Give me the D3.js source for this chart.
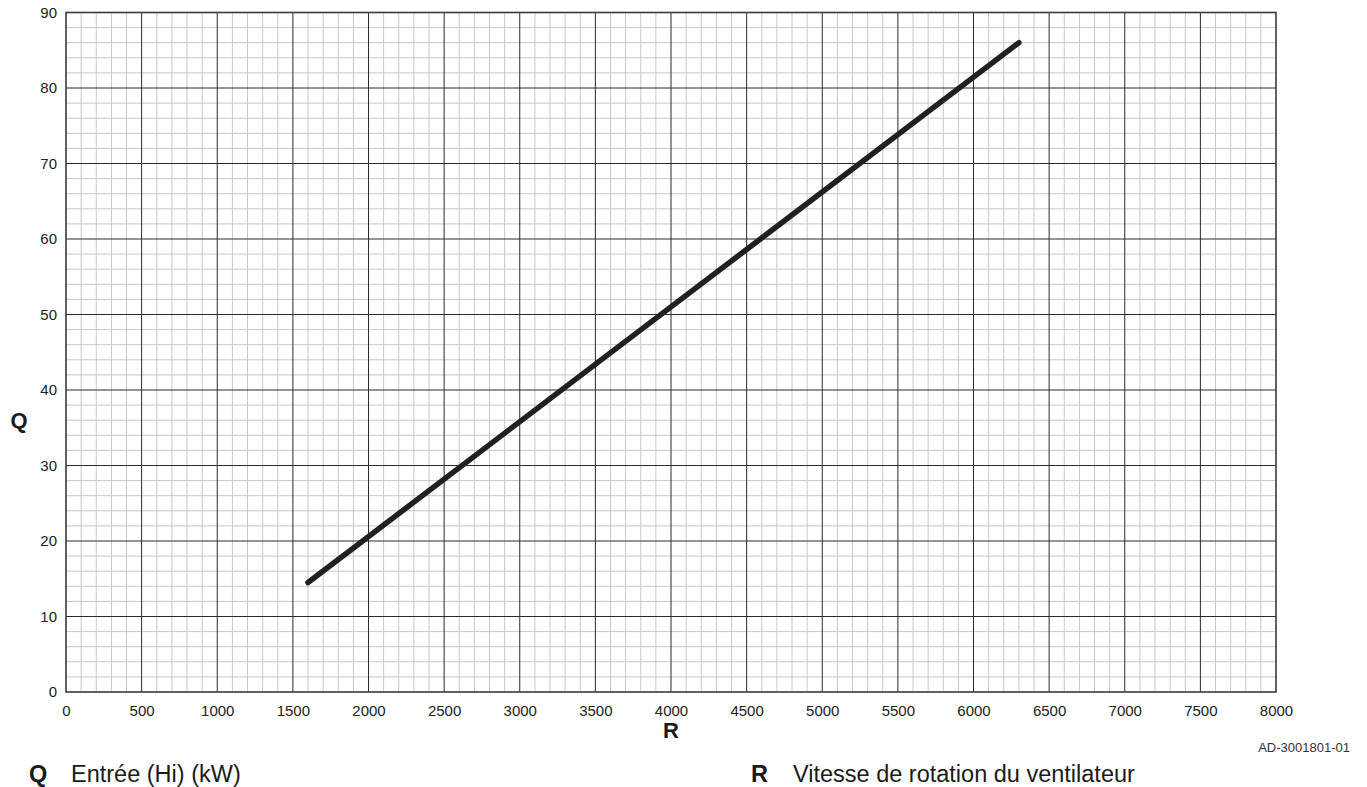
<!DOCTYPE html>
<html>
<head>
<meta charset="utf-8">
<script src="https://cdn.jsdelivr.net/npm/d3@7"></script>
<style>
  html, body { margin: 0; padding: 0; background: #fff; }
  svg { display: block; font-family: "Liberation Sans", Arial, sans-serif; }
</style>
</head>
<body>
<svg id="chart" width="1367" height="787"></svg>
<script>
// Fan speed (R) vs heat input Hi (Q)
const fanSpeed = [1600, 6300];
const heatInput = [14.5, 86];
const xTicks = [0, 500, 1000, 1500, 2000, 2500, 3000, 3500, 4000, 4500, 5000, 5500, 6000, 6500, 7000, 7500, 8000];
const yTicks = [0, 10, 20, 30, 40, 50, 60, 70, 80, 90];

const svg = d3.select("#chart");
const plotLeft = 66, plotRight = 1276, plotTop = 12.5, plotBottom = 692;

const x = d3.scaleLinear().domain([0, 8000]).range([plotLeft, plotRight]);
const y = d3.scaleLinear().domain([0, 90]).range([plotBottom, plotTop]);

const grid = svg.append("g");

// minor grid: every 100 rpm and every 2 kW
grid.selectAll("line.vx").data(d3.range(100, 8000, 100).filter(v => v % 500 !== 0))
  .join("line").attr("class", "vx")
  .attr("x1", d => x(d)).attr("x2", d => x(d))
  .attr("y1", plotTop).attr("y2", plotBottom)
  .attr("stroke", "#c8c8c8").attr("stroke-width", 1);
grid.selectAll("line.hy").data(d3.range(2, 90, 2).filter(v => v % 10 !== 0))
  .join("line").attr("class", "hy")
  .attr("x1", plotLeft).attr("x2", plotRight)
  .attr("y1", d => y(d)).attr("y2", d => y(d))
  .attr("stroke", "#c8c8c8").attr("stroke-width", 1);

// major grid
grid.selectAll("line.mx").data(xTicks.slice(1, -1))
  .join("line").attr("class", "mx")
  .attr("x1", d => x(d)).attr("x2", d => x(d))
  .attr("y1", plotTop).attr("y2", plotBottom)
  .attr("stroke", "#2a2a2a").attr("stroke-width", 1);
grid.selectAll("line.my").data(yTicks.slice(1, -1))
  .join("line").attr("class", "my")
  .attr("x1", plotLeft).attr("x2", plotRight)
  .attr("y1", d => y(d)).attr("y2", d => y(d))
  .attr("stroke", "#2a2a2a").attr("stroke-width", 1);

// frame
svg.append("rect")
  .attr("x", plotLeft).attr("y", plotTop)
  .attr("width", plotRight - plotLeft).attr("height", plotBottom - plotTop)
  .attr("fill", "none").attr("stroke", "#3a3a3a").attr("stroke-width", 1.6);

// axes (labels only, grid draws the lines)
const xAxis = svg.append("g").attr("transform", `translate(0,${plotBottom})`)
  .call(d3.axisBottom(x).tickValues(xTicks).tickFormat(d3.format("d")).tickSize(0).tickPadding(13));
const yAxis = svg.append("g").attr("transform", `translate(${plotLeft},0)`)
  .call(d3.axisLeft(y).tickValues(yTicks).tickFormat(d3.format("d")).tickSize(0).tickPadding(9));
[xAxis, yAxis].forEach(a => {
  a.select(".domain").remove();
  a.selectAll("text").attr("font-size", 15).attr("fill", "#222")
    .attr("font-family", "'Liberation Sans', Arial, sans-serif");
});

// data line
const line = d3.line().x((d, i) => x(fanSpeed[i])).y(d => y(d));
svg.append("path").datum(heatInput)
  .attr("d", line)
  .attr("fill", "none").attr("stroke", "#231f20")
  .attr("stroke-width", 5.5).attr("stroke-linecap", "round");

// axis letters
svg.append("text").attr("x", 19).attr("y", 428).attr("text-anchor", "middle")
  .attr("font-size", 22).attr("font-weight", "bold").attr("fill", "#1a1a1a").text("Q");
svg.append("text").attr("x", 671).attr("y", 738).attr("text-anchor", "middle")
  .attr("font-size", 22).attr("font-weight", "bold").attr("fill", "#1a1a1a").text("R");

// reference code
svg.append("text").attr("x", 1350).attr("y", 752).attr("text-anchor", "end")
  .attr("font-size", 13).attr("fill", "#333").text("AD-3001801-01");

// legend
const legend = [
  { key: "Q", label: "Entrée (Hi) (kW)", x: 29 },
  { key: "R", label: "Vitesse de rotation du ventilateur", x: 751 }
];
legend.forEach(l => {
  svg.append("text").attr("x", l.x).attr("y", 782)
    .attr("font-size", 23.5).attr("font-weight", "bold").attr("fill", "#1a1a1a").text(l.key);
  svg.append("text").attr("x", l.x + 42).attr("y", 782)
    .attr("font-size", 23.5).attr("fill", "#1a1a1a").text(l.label);
});
</script>
</body>
</html>
